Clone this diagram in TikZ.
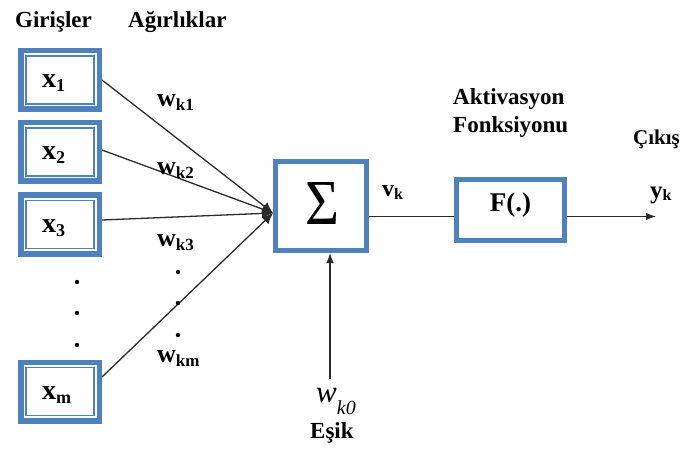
\documentclass[tikz,border=0pt]{standalone}
\usepackage{fontspec}
\setmainfont{Liberation Serif}
\usepackage{graphicx}
\usetikzlibrary{arrows.meta,calc}

\definecolor{boxblue}{HTML}{4F81BD}
\definecolor{wire}{HTML}{2B2B2B}

% font size shortcut and "main + lowered subscript" label
\newcommand\fsz[1]{\fontsize{#1}{#1}\selectfont}
\newcommand\sublab[5]{{\fsz{#3}#1}\raisebox{-#5pt}{\fsz{#4}#2}}

\begin{document}
\begin{tikzpicture}[x=1pt,y=-1pt,
  inbox/.style={draw=boxblue, line width=5.5pt, minimum width=78.5pt,
    minimum height=58.5pt, inner sep=0pt,
    path picture={\draw[boxblue,line width=1.5pt]
      ([shift={(5.25pt,-5.25pt)}]path picture bounding box.north west) rectangle
      ([shift={(-5.25pt,5.25pt)}]path picture bounding box.south east);}},
  opbox/.style={draw=boxblue, line width=5pt, inner sep=0pt},
  lab/.style={anchor=base west, inner sep=0pt, font=\bfseries},
  wireline/.style={draw=wire, line width=1.3pt},
  tip/.style={-{Latex[length=10pt,width=7.5pt]}},
  bigtip/.style={-{Latex[length=11pt,width=10pt]}},
  dotmark/.style={fill=black}
]
\useasboundingbox (0,0) rectangle (688,457);

% column headings
\node[lab] (hin) at (15,28) {\fsz{23}Girişler};
\node[lab] (hw) at (128,28) {\fsz{23}Ağırlıklar};

% input boxes
\node[inbox] (in1) at (60,80) {};
\node[inbox] (in2) at (60,152) {};
\node[inbox] (in3) at (60,224.5) {};
\node[inbox] (inm) at (60,391.5) {};
\node[lab] (tx1) at (42,88) {\sublab{x}{1}{28}{18}{4}};
\node[lab] (tx2) at (42,160) {\sublab{x}{2}{28}{18}{4}};
\node[lab] (tx3) at (42,232.5) {\sublab{x}{3}{28}{18}{4}};
\node[lab] (txm) at (42,399.5) {\sublab{x}{m}{28}{18}{4}};

% vertical ellipsis between the inputs
\foreach \yy in {282,313,345} \fill[dotmark] (77,\yy) circle (2.2);

% summation block
\node[opbox, minimum width=91pt, minimum height=89pt] (sig) at (321,206) {};
\node[inner sep=0pt] (sigsym) at (322,203) {\resizebox{34pt}{42pt}{Σ}};
\coordinate (sumin) at (273,213);

% weighted connections
\draw[wireline,bigtip] (in1.east) -- (sumin);
\draw[wireline,bigtip] ([yshift=2pt]in2.east) -- (sumin);
\draw[wireline,bigtip] ([yshift=4.5pt]in3.east) -- (sumin);
\draw[wireline,bigtip] ([yshift=14.5pt]inm.east) -- (sumin);

% weight labels
\node[lab] (w1) at (157,107) {\sublab{w}{k1}{26}{17}{4}};
\node[lab] (w2) at (157,175) {\sublab{w}{k2}{26}{17}{4}};
\node[lab] (w3) at (157,247) {\sublab{w}{k3}{26}{17}{4}};
\node[lab] (wm) at (157,362) {\sublab{w}{km}{26}{17}{4}};
\foreach \yy in {272,303,335} \fill[dotmark] (178,\yy) circle (2.2);

% bias input
\coordinate (biasend) at (330,379);
\draw[wireline,tip] (biasend) -- (biasend |- sig.south);
\node[anchor=base west, inner sep=0pt, font=\itshape] (bias) at (316,402)
  {\sublab{w}{k0}{31}{20}{12}};
\node[lab] (esik) at (310,438) {\fsz{23}Eşik};

% activation block
\coordinate (mid) at (0,216.5);
\node[opbox, minimum width=108pt, minimum height=61pt] (act) at (510.5,210) {};
\node[anchor=base, inner sep=0pt, font=\bfseries] (actlab) at (510.5,212) {\fsz{27}F(.)};
\draw[wireline] (sig.east |- mid) -- (act.west |- mid);
\node[lab] (vk) at (382,197) {\sublab{v}{k}{24}{16}{2}};
\node[lab] (akt1) at (453,105) {\fsz{23}Aktivasyon};
\node[lab] (akt2) at (453,133) {\fsz{23}Fonksiyonu};

% output
\coordinate (outend) at (656,216.5);
\draw[wireline,tip] (act.east |- mid) -- (outend);
\node[lab] (yk) at (650,199) {\sublab{y}{k}{25}{16}{2}};
\node[lab] (cikis) at (633,145) {\fsz{21}Çıkış};
\end{tikzpicture}
\end{document}
